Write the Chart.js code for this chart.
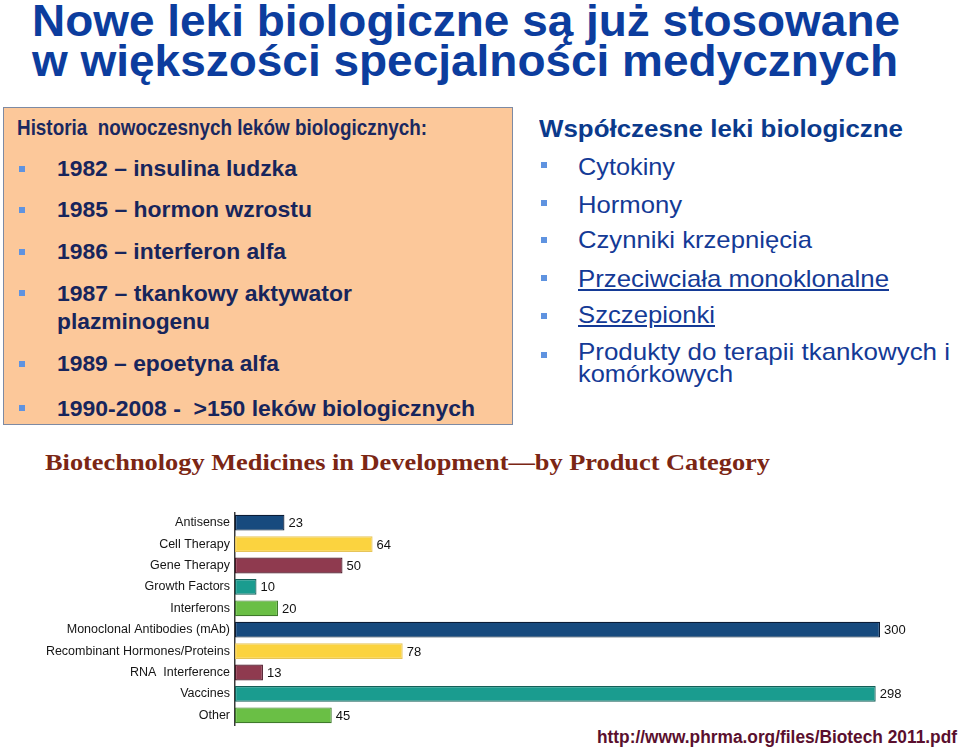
<!DOCTYPE html>
<html>
<head>
<meta charset="utf-8">
<script src="https://cdn.jsdelivr.net/npm/chart.js@4/dist/chart.umd.min.js"></script>
<style>
  body{margin:0;background:#fff;width:960px;height:749px;overflow:hidden;position:relative;font-family:"Liberation Sans",Arial,sans-serif}
  .t{position:absolute;white-space:nowrap;line-height:1;transform-origin:0 0}
  .narrow{font-family:"Liberation Sans Narrow","Liberation Sans",Arial,sans-serif;font-weight:bold}
  .bul{position:absolute;width:6px;height:6px;background:#5f93e0}
  #box{position:absolute;left:3px;top:107px;width:508px;height:316px;background:#fcc89a;border:1.5px solid #7d8aa3}
  .li{font-size:22px;font-weight:bold;color:#17255c}
  .ri{font-size:24px;color:#143a96}
  #chartWrap{position:absolute;left:0;top:512px;width:960px;height:214px}
</style>
</head>
<body>
<div class="t narrow" data-w="868" style="left:32px;top:-1px;font-size:44px;color:#0c3d9e">Nowe leki biologiczne są już stosowane</div>
<div class="t narrow" data-w="866" style="left:32px;top:39px;font-size:44px;color:#0c3d9e">w większości specjalności medycznych</div>

<div id="box"></div>
<div class="t narrow" data-w="410" style="left:17px;top:117px;font-size:22px;color:#1a2860">Historia&nbsp; nowoczesnych leków biologicznych:</div>
<div class="bul" style="left:19px;top:166px"></div>
<div class="t li" data-w="240" style="left:57px;top:158px">1982 – insulina ludzka</div>
<div class="bul" style="left:19px;top:207px"></div>
<div class="t li" data-w="255" style="left:57px;top:199px">1985 – hormon wzrostu</div>
<div class="bul" style="left:19px;top:249px"></div>
<div class="t li" data-w="229" style="left:57px;top:241px">1986 – interferon alfa</div>
<div class="bul" style="left:19px;top:290px"></div>
<div class="t li" data-w="295" style="left:57px;top:283px">1987 – tkankowy aktywator</div>
<div class="t li" data-w="153" style="left:57px;top:311px">plazminogenu</div>
<div class="bul" style="left:19px;top:361px"></div>
<div class="t li" data-w="222" style="left:57px;top:353px">1989 – epoetyna alfa</div>
<div class="bul" style="left:19px;top:405px"></div>
<div class="t li" data-w="418" style="left:57px;top:398px">1990-2008 -&nbsp; &gt;150 leków biologicznych</div>

<div class="t" data-w="364" style="left:539px;top:117px;font-size:24px;font-weight:bold;color:#0b3a8c">Współczesne leki biologiczne</div>
<div class="bul" style="left:541px;top:162px"></div>
<div class="t ri" data-w="97" style="left:578px;top:155px">Cytokiny</div>
<div class="bul" style="left:541px;top:200px"></div>
<div class="t ri" data-w="104" style="left:578px;top:193px">Hormony</div>
<div class="bul" style="left:541px;top:237px"></div>
<div class="t ri" data-w="234" style="left:578px;top:228px">Czynniki krzepnięcia</div>
<div class="bul" style="left:541px;top:275px"></div>
<div class="t ri" data-w="311" style="left:578px;top:267px;text-decoration:underline">Przeciwciała monoklonalne</div>
<div class="bul" style="left:541px;top:313px"></div>
<div class="t ri" data-w="137" style="left:578px;top:303px;text-decoration:underline">Szczepionki</div>
<div class="bul" style="left:541px;top:352px"></div>
<div class="t ri" data-w="372" style="left:578px;top:340px">Produkty do terapii tkankowych i</div>
<div class="t ri" data-w="155" style="left:578px;top:362px">komórkowych</div>

<div class="t" data-w="725" style="left:45px;top:450px;font-size:24px;font-weight:bold;color:#7b2614;font-family:'Liberation Serif','Times New Roman',serif">Biotechnology Medicines in Development—by Product Category</div>

<div id="chartWrap"><canvas id="bioChart"></canvas></div>

<div class="t" data-w="360" style="left:597px;top:728px;font-size:18px;font-weight:bold;color:#5a0f2e">http://www.phrma.org/files/Biotech 2011.pdf</div>

<script>
// fit text lines to the measured widths in the reference
document.querySelectorAll(".t[data-w]").forEach(function(el){
    let w=el.getBoundingClientRect().width;
    let target=parseFloat(el.getAttribute("data-w"));
    el.style.transform="scaleX("+(target/w)+")";
});

const categories=["Antisense","Cell Therapy","Gene Therapy","Growth Factors","Interferons",
    "Monoclonal Antibodies (mAb)","Recombinant Hormones/Proteins","RNA  Interference","Vaccines","Other"];
const medicines=[23,64,50,10,20,300,78,13,298,45];
const barColors=["#174a7e","#fbd33f","#8f3a4f","#1a9c8f","#6abf45","#174a7e","#fbd33f","#8f3a4f","#1a9c8f","#6abf45"];
const barBorders=["#0b1c36","#e6c45a","#4a1626","#145e57","#3f7a2b","#0b1c36","#e6c45a","#4a1626","#145e57","#3f7a2b"];

const valueLabels={
    id:"valueLabels",
    afterDatasetsDraw:function(chart){
        let ctx=chart.ctx;
        let meta=chart.getDatasetMeta(0);
        ctx.save();
        ctx.font="13px 'Liberation Sans', Arial, sans-serif";
        ctx.fillStyle="#111";
        ctx.textBaseline="middle";
        ctx.textAlign="left";
        meta.data.forEach(function(bar,i){
            ctx.fillText(medicines[i],bar.x+4,bar.y+1);
        });
        ctx.restore();
    }
};

new Chart(document.getElementById("bioChart").getContext("2d"),{
    type:"bar",
    data:{
        labels:categories,
        datasets:[{
            data:medicines,
            backgroundColor:barColors,
            borderColor:barBorders,
            borderWidth:1.2,
            borderSkipped:false,
            categoryPercentage:1,
            barPercentage:0.74
        }]
    },
    options:{
        indexAxis:"y",
        responsive:true,
        maintainAspectRatio:false,
        animation:false,
        layout:{padding:{left:0,right:15.5,top:0,bottom:0}},
        plugins:{legend:{display:false},tooltip:{enabled:false}},
        scales:{
            x:{display:false,min:0,max:330},
            y:{
                afterFit:function(scale){
                    scale.width=235;
                    scale.paddingTop=0;
                    scale.paddingBottom=0;
                },
                grid:{display:false,drawTicks:false},
                border:{display:true,color:"#3a3a3a",width:1.5},
                ticks:{
                    padding:5,
                    color:"#151515",
                    font:{family:"'Liberation Sans', Arial, sans-serif",size:12.5}
                }
            }
        }
    },
    plugins:[valueLabels]
});
</script>
</body>
</html>
